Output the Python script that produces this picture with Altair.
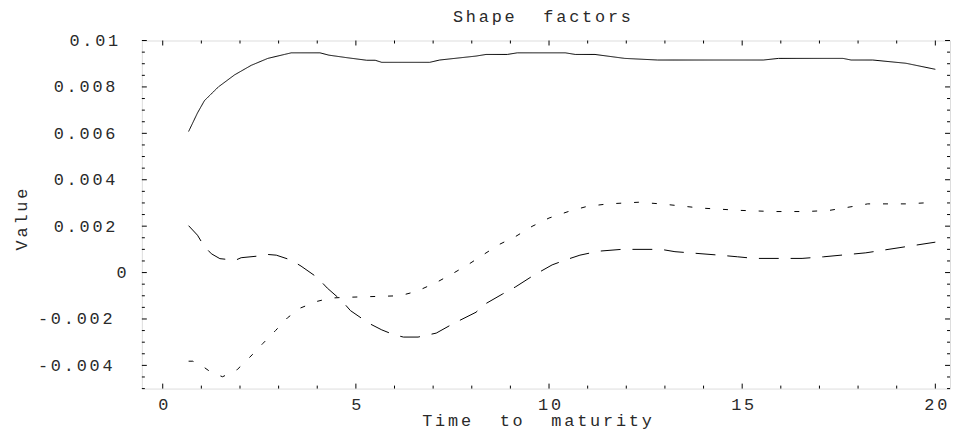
import altair as alt
import pandas as pd

# ---- data ----
t_solid = [0.67, 0.9, 1.08, 1.44, 1.86, 2.29, 2.72, 3.15, 3.33, 4.07, 4.3, 4.77, 5.28, 5.5, 5.67,
           6.91, 7.17, 8.11, 8.37, 8.92, 9.18, 10.42, 10.68, 11.19, 11.96, 12.81, 15.55, 15.94,
           17.61, 17.82, 18.38, 19.24, 20.0]
v_solid = [0.00608, 0.00688, 0.00741, 0.0080, 0.00852, 0.00893, 0.00923, 0.0094, 0.00947, 0.00947,
           0.00937, 0.00926, 0.00915, 0.00915, 0.00906, 0.00906, 0.00916, 0.00933, 0.0094, 0.0094,
           0.00947, 0.00947, 0.0094, 0.0094, 0.00923, 0.00916, 0.00916, 0.00923, 0.00923, 0.00916,
           0.00916, 0.00902, 0.00876]

t_long = [0.67, 0.9, 1.07, 1.26, 1.48, 1.88, 2.03, 2.46, 2.72, 2.94, 3.32, 3.58, 4.0, 4.26, 4.65,
          4.86, 5.33, 5.67, 5.97, 6.23, 6.61, 7.08, 7.51, 8.11, 8.32, 8.79, 9.14, 9.6, 10.08, 10.42,
          10.8, 11.28, 11.88, 12.9, 13.26, 14.41, 14.88, 15.31, 16.55, 17.11, 18.2, 19.06, 20.0]
v_long = [0.00202, 0.00161, 0.00114, 0.00081, 0.0006, 0.00053, 0.00064, 0.00071, 0.00078, 0.00075,
          0.00054, 0.00028, -0.00021, -0.00067, -0.00124, -0.00164, -0.00218, -0.00247, -0.00267,
          -0.00278, -0.00278, -0.00261, -0.00221, -0.00171, -0.00138, -0.00093, -0.00061, -0.00012,
          0.00033, 0.00054, 0.00075, 0.00092, 0.001, 0.001, 0.0009, 0.00075, 0.00068, 0.00061,
          0.00061, 0.00068, 0.00085, 0.00107, 0.00131]

t_short = [0.67, 0.78, 1.05, 1.27, 1.55, 1.93, 2.33, 2.59, 2.92, 3.23, 3.56, 4.0, 4.34, 4.68, 6.14,
           6.57, 7.08, 7.51, 7.94, 8.28, 8.71, 9.14, 9.56, 10.0, 10.5, 10.98, 11.53, 12.31, 12.9,
           13.93, 14.95, 15.81, 16.66, 17.26, 17.87, 18.25, 19.24, 19.92]
v_short = [-0.00382, -0.00382, -0.00406, -0.00432, -0.00449, -0.00418, -0.00352, -0.00306, -0.0025,
           -0.00195, -0.00153, -0.00124, -0.0011, -0.00107, -0.001, -0.00081, -0.00043, -0.00004,
           0.00038, 0.00075, 0.00121, 0.00156, 0.00199, 0.00235, 0.00263, 0.00285, 0.00296, 0.00303,
           0.00296, 0.00278, 0.00268, 0.00263, 0.00263, 0.00268, 0.00285, 0.00296, 0.00296, 0.00302]

x_labels = [0, 5, 10, 15, 20]
y_labels = [-0.004, -0.002, 0, 0.002, 0.004, 0.006, 0.008, 0.01]
x_ticks = list(range(0, 21))
y_ticks = [k / 2000 for k in range(-10, 21)]

title_text = "Shape  factors"
x_title = "Time  to  maturity"
y_title = "Value"

rows = []
for name, ts, vs in [("f1", t_solid, v_solid), ("f2", t_long, v_long), ("f3", t_short, v_short)]:
    for i, (a, b) in enumerate(zip(ts, vs)):
        rows.append({"series": name, "t": a, "v": b, "i": i})
df = pd.DataFrame(rows)

W, H = 815, 351
FONT = "Liberation Mono"
FS = 17
SP = "\u2006"  # six-per-em space, used as letter spacing
WJ = "\u2060"  # word joiner keeps trailing spacing from being dropped


def spaced(s):
    return SP.join(s)


L = "toString(datum.value)"
x_lbl = "join(split(" + L + ", ''), '" + SP + "')"
y_lbl = x_lbl + " + replace(" + L + ", regexp('.', 'g'), '" + SP + "') + '" + WJ + "'"

xs = alt.Scale(domain=[-0.54, 20.38], nice=False, zero=False)
ys = alt.Scale(domain=[-0.005, 0.01], nice=False, zero=False)

TXT = "#2a2a2a"

lines = alt.Chart(df).mark_line(strokeWidth=1, color="black").encode(
    x=alt.X("t:Q", scale=xs,
            axis=alt.Axis(values=x_labels, ticks=False, domain=False, grid=False, labelPadding=8,
                          labelFont=FONT, labelFontSize=FS, labelColor=TXT, labelExpr=x_lbl,
                          title=spaced(x_title), titleX=398, titleY=32, titleBaseline="middle",
                          titleAlign="center",
                          titleFont=FONT, titleFontSize=FS, titleFontWeight="normal",
                          titleColor=TXT)),
    y=alt.Y("v:Q", scale=ys,
            axis=alt.Axis(values=y_labels, ticks=False, domain=False, grid=False, labelPadding=13,
                          labelFont=FONT, labelFontSize=FS, labelColor=TXT, labelExpr=y_lbl,
                          title=spaced(y_title), titleX=-121, titleY=180, titleBaseline="middle",
                          titleAlign="center", titleAngle=270,
                          titleFont=FONT, titleFontSize=FS,
                          titleFontWeight="normal", titleColor=TXT)),
    strokeDash=alt.StrokeDash("series:N", scale=alt.Scale(domain=["f1", "f2", "f3"],
                              range=[[1, 0], [20, 12], [5, 13]]), legend=None),
    detail="series:N",
    order="i:Q",
)

xt = pd.DataFrame({"t": x_ticks, "major": [k % 5 == 0 for k in x_ticks]})
yt = pd.DataFrame({"v": y_ticks, "major": [abs(round(v / 0.002) * 0.002 - v) < 1e-9 for v in y_ticks]})


def xtick(data, y0, y1):
    return alt.Chart(data).mark_rule(color="black", strokeWidth=1).encode(
        x=alt.X("t:Q", scale=xs), y=alt.value(y0), y2=alt.value(y1))


def ytick(data, x0, x1):
    return alt.Chart(data).mark_rule(color="black", strokeWidth=1).encode(
        y=alt.Y("v:Q", scale=ys), x=alt.value(x0), x2=alt.value(x1))


xmin = xt[~xt.major]
xmaj = xt[xt.major]
ymin = yt[~yt.major]
ymaj = yt[yt.major]

ticks = [
    xtick(xmin, H, H - 3), xtick(xmaj, H, H - 5),
    xtick(xmin, 0, 3), xtick(xmaj, 0, 5),
    ytick(ymin, 0, 3), ytick(ymaj, 0, 5),
    ytick(ymin, W, W - 3), ytick(ymaj, W, W - 5),
]

chart = alt.layer(lines, *ticks).properties(
    width=W, height=H,
    title=alt.TitleParams(spaced(title_text), font=FONT, fontSize=FS, fontWeight="normal",
                          color=TXT, offset=6, dx=-4),
    autosize=alt.AutoSizeParams(type="none"),
    padding={"left": 135, "top": 31, "right": 1, "bottom": 44},
).configure_view(stroke="black", strokeWidth=1).configure(background="white")

chart.save("out.html", embed_options={"renderer": "svg", "actions": False})
